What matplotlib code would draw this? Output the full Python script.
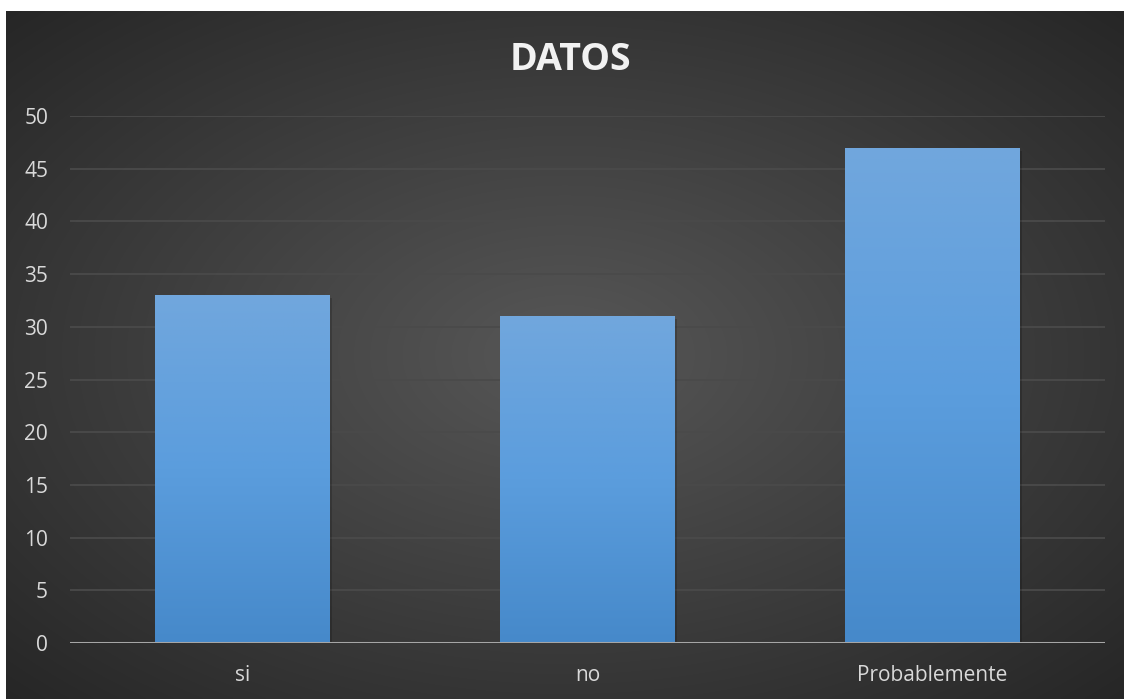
import numpy as np
import matplotlib
matplotlib.use("Agg")
import matplotlib.pyplot as plt
from matplotlib.colors import LinearSegmentedColormap
from matplotlib.patches import Rectangle

categories = ["si", "no", "Probablemente"]
values = [33, 31, 47]
yticks = [0, 5, 10, 15, 20, 25, 30, 35, 40, 45, 50]
title = "DATOS"

plt.rcParams['font.family'] = ['Open Sans', 'DejaVu Sans']

W, H = 1124, 699
fig = plt.figure(figsize=(W / 100, H / 100), dpi=100)
fig.patch.set_facecolor("white")

# background with radial gradient
bg = fig.add_axes([6 / W, 0, (W - 6) / W, (H - 11) / H])
bg.set_axis_off()
ny, nx = 300, 500
yy, xx = np.mgrid[0:1:ny * 1j, 0:1:nx * 1j]
r = np.sqrt(((xx - 0.5) / 0.75) ** 2 + ((yy - 0.5) / 0.75) ** 2)
r = np.clip(r / 0.95, 0, 1)
c_center = np.array([0x57, 0x57, 0x57]) / 255
c_edge = np.array([0x26, 0x26, 0x26]) / 255
img = c_center[None, None, :] * (1 - r[..., None]) + c_edge[None, None, :] * r[..., None]
bg.imshow(img, aspect="auto", extent=[0, 1, 0, 1], interpolation="bilinear")
bg.set_xlim(0, 1)
bg.set_ylim(0, 1)

# plot area
x0, x1 = 70, 1105
y_top, y_bot = 116, 643
ax = fig.add_axes([x0 / W, (H - y_bot) / H, (x1 - x0) / W, (y_bot - y_top) / H])
ax.patch.set_alpha(0)
ax.set_xlim(-0.5, len(categories) - 0.5)
ax.set_ylim(0, 50)
for s in ax.spines.values():
    s.set_visible(False)
ax.set_yticks(yticks)
ax.set_yticklabels([str(t) for t in yticks], fontsize=15, color="#d9d9d9")
ax.set_xticks(range(len(categories)))
ax.set_xticklabels(categories, fontsize=15, color="#d9d9d9")
ax.tick_params(axis="both", length=0)
ax.tick_params(axis="y", pad=15.8)
ax.tick_params(axis="x", pad=16)
for t in yticks[1:]:
    ax.axhline(t, color="#4a4a4a", lw=1.3, zorder=1)

cmap = LinearSegmentedColormap.from_list("bar", ["#4689ca", "#5b9ddd", "#71a7dd"])
grad = np.linspace(0, 1, 256)[:, None]
bw = 0.507
for i, v in enumerate(values):
    # subtle shadow
    sh = Rectangle((i - bw / 2 + 0.006, 0), bw, v - 0.3, facecolor="black", alpha=0.18,
                   edgecolor="none", zorder=2)
    ax.add_patch(sh)
    rect = Rectangle((i - bw / 2, 0), bw, v, facecolor="none", edgecolor="none", zorder=3)
    ax.add_patch(rect)
    im = ax.imshow(grad, cmap=cmap, aspect="auto", origin="lower",
                   extent=[i - bw / 2, i + bw / 2, 0, v], zorder=3, interpolation="bilinear")
    im.set_clip_path(rect)
ax.set_xlim(-0.5, len(categories) - 0.5)
ax.set_ylim(0, 50)
ax.axhline(0, color="#a6a6a6", lw=2.2, zorder=4)

fig.text(570 / W, 1 - 60 / H, title, ha="center", va="center",
         fontsize=27, fontweight="bold", color="#f2f2f2")

fig.savefig("out.png", dpi=100, facecolor=fig.get_facecolor())
